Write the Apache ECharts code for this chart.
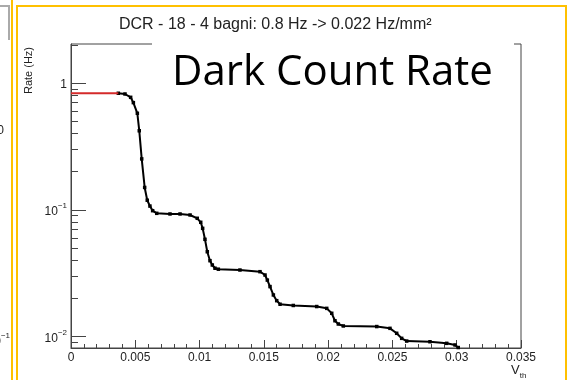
<!DOCTYPE html>
<html>
<head>
<meta charset="utf-8">
<script src="https://cdn.jsdelivr.net/npm/echarts@6/dist/echarts.min.js"></script>
<style>html,body{margin:0;padding:0;background:#fff}#c{width:569px;height:380px}</style>
</head>
<body>
<div id="c"></div>
<script>
// ---- data ----
var titleText = 'DCR - 18 - 4 bagni: 0.8 Hz -> 0.022 Hz/mm\u00B2';
var overlayText = 'Dark Count Rate';
var yTitle = 'Rate (Hz)';
var xTitleMain = 'V';
var xTitleSub = 'th';
var xTicks = [0, 0.005, 0.01, 0.015, 0.02, 0.025, 0.03, 0.035];
var yMajorTicks = [0.01, 0.1, 1];
var yMinorTicks = [0.009, 0.02, 0.03, 0.04, 0.05, 0.06, 0.07, 0.08, 0.09,
                   0.2, 0.3, 0.4, 0.5, 0.6, 0.7, 0.8, 0.9, 2];
var redX = [0, 0.00368];
var redY = [0.83, 0.83];
var vth = [0.00368, 0.0042, 0.00464, 0.00485, 0.00516, 0.00531, 0.0055, 0.00573, 0.00593, 0.00614,
           0.00635, 0.00667, 0.0077, 0.00848, 0.00926, 0.00982, 0.01009, 0.01024, 0.01042, 0.0106,
           0.01081, 0.01099, 0.0112, 0.01146, 0.01314, 0.0147, 0.01509, 0.01527, 0.01548, 0.01574,
           0.016, 0.01626, 0.01729, 0.01911, 0.01989, 0.02028, 0.02053, 0.02079, 0.02118, 0.02378,
           0.02481, 0.02533, 0.02572, 0.02611, 0.02792, 0.02922, 0.02987, 0.03012];
var rate = [0.83, 0.819, 0.771, 0.70, 0.577, 0.42, 0.252, 0.150, 0.119, 0.107,
            0.0984, 0.0938, 0.0927, 0.0927, 0.091, 0.0857, 0.0797, 0.0714, 0.0585, 0.0467,
            0.0397, 0.0367, 0.0346, 0.0340, 0.0335, 0.0325, 0.0306, 0.0279, 0.0248, 0.0213,
            0.0192, 0.0180, 0.0176, 0.01726, 0.0167, 0.01527, 0.01334, 0.01257, 0.01213, 0.0120,
            0.01162, 0.01062, 0.00969, 0.00922, 0.00911, 0.00885, 0.00859, 0.0082];

var chart = echarts.init(document.getElementById('c'));
var axisColor = '#444';
var FONT = '"Liberation Sans", Arial, sans-serif';
function zip(a, b) { return a.map(function (v, i) { return [v, b[i]]; }); }

chart.setOption({
  animation: false,
  backgroundColor: '#fff',
  title: {
    text: titleText, left: 114, top: 12,
    textStyle: { fontFamily: FONT, fontSize: 16, fontWeight: 'normal', color: '#222' }
  },
  grid: { left: 71, right: 48, top: 44, bottom: 32, show: true, borderColor: axisColor, borderWidth: 1 },
  xAxis: {
    type: 'value', min: 0, max: 0.035, interval: 0.005,
    axisLine: { show: true, lineStyle: { color: axisColor, width: 1 } },
    axisTick: { show: true, inside: true, length: 8, lineStyle: { color: axisColor } },
    minorTick: { show: true, splitNumber: 5, length: 4, lineStyle: { color: axisColor } },
    splitLine: { show: false },
    axisLabel: {
      margin: 4, fontFamily: FONT, fontSize: 12, color: '#222',
      formatter: function (v) { return String(parseFloat(v.toFixed(4))); }
    }
  },
  yAxis: [{
    type: 'log', min: 0.00813, max: 2.03, position: 'left',
    axisLine: { show: true, lineStyle: { color: axisColor, width: 1 } },
    axisTick: { show: true, inside: true, length: 15, customValues: yMajorTicks, lineStyle: { color: axisColor } },
    splitLine: { show: false },
    axisLabel: {
      customValues: yMajorTicks, margin: 4, hideOverlap: false,
      formatter: function (v) {
        var l = Math.log10(v), r = Math.round(l);
        if (Math.abs(l - r) > 1e-6) return '';
        if (r === 0) return '{b|1}';
        return '{b|10}{s|\u2212' + Math.abs(r) + '}';
      },
      rich: {
        b: { fontFamily: FONT, fontSize: 12, color: '#222', lineHeight: 16, verticalAlign: 'bottom' },
        s: { fontFamily: FONT, fontSize: 8, color: '#222', lineHeight: 16, verticalAlign: 'top' }
      }
    }
  }, {
    type: 'log', min: 0.00813, max: 2.03, position: 'left', offset: 0,
    axisLine: { show: false },
    axisTick: { show: true, inside: true, length: 7, customValues: yMinorTicks, lineStyle: { color: axisColor } },
    splitLine: { show: false },
    axisLabel: { show: false }
  }],
  series: [{
    type: 'line', data: zip(vth, rate), yAxisIndex: 0,
    symbol: 'rect', symbolSize: 3.5, showSymbol: true,
    itemStyle: { color: '#000' },
    lineStyle: { color: '#000', width: 2 },
    z: 3
  }, {
    type: 'line', data: zip(redX, redY), yAxisIndex: 0,
    symbol: 'none', lineStyle: { color: '#d42a2a', width: 2 }, z: 4
  }],
  graphic: [
    { type: 'rect', z: 100, shape: { x: 152, y: 38, width: 362, height: 58 }, style: { fill: '#fff' } },
    { type: 'text', z: 101, x: 172, y: 73,
      style: { text: overlayText, fontFamily: '"Open Sans", "Noto Sans", sans-serif', fontSize: 42,
               fill: '#000', align: 'left', verticalAlign: 'middle' } },
    { type: 'text', z: 101, x: 29, y: 47, rotation: Math.PI / 2,
      style: { text: yTitle, fontFamily: FONT, fontSize: 11, fill: '#222', align: 'right', verticalAlign: 'middle' } },
    { type: 'text', z: 101, x: 511, y: 364,
      style: { text: '{v|' + xTitleMain + '}{s|' + xTitleSub + '}', fill: '#222', align: 'left', verticalAlign: 'top',
               rich: { v: { fontFamily: FONT, fontSize: 13, lineHeight: 16, verticalAlign: 'top' },
                       s: { fontFamily: FONT, fontSize: 8, lineHeight: 16, verticalAlign: 'bottom' } } } },
    { type: 'rect', z: 102, shape: { x: 17, y: 6, width: 549, height: 400 },
      style: { fill: 'none', stroke: '#FFC000', lineWidth: 2 } },
    { type: 'line', z: 102, shape: { x1: 12, y1: 0, x2: 12, y2: 380 }, style: { stroke: '#FFC000', lineWidth: 2 } },
    { type: 'polyline', z: 101, shape: { points: [[0, 6], [9, 6], [9, 40]] }, style: { stroke: '#aaa', lineWidth: 2, fill: 'none' } },
    { type: 'text', z: 101, x: 4, y: 131,
      style: { text: '0', fontFamily: FONT, fontSize: 12, fill: '#222', align: 'right', verticalAlign: 'middle' } },
    { type: 'text', z: 101, x: 10, y: 340,
      style: { text: '{b|10}{s|\u22121}', fill: '#222', align: 'right', verticalAlign: 'middle',
               rich: { b: { fontFamily: FONT, fontSize: 12, lineHeight: 16, verticalAlign: 'bottom' },
                       s: { fontFamily: FONT, fontSize: 8, lineHeight: 16, verticalAlign: 'top' } } } }
  ]
});
</script>
</body>
</html>
